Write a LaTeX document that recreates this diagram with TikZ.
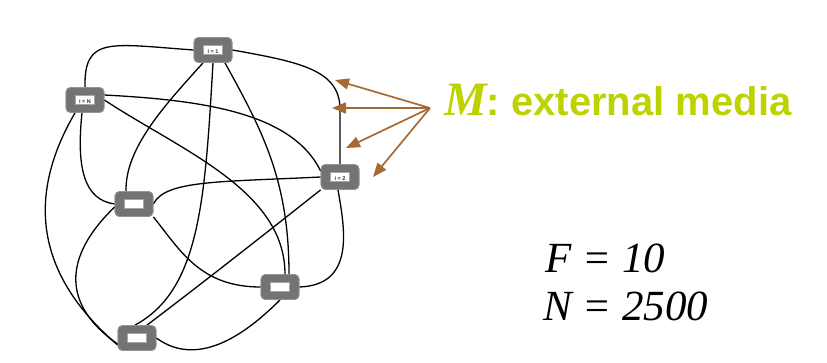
\documentclass[tikz,border=0pt]{standalone}
\usepackage{fontspec}
\setmainfont{Liberation Serif}
\setsansfont{Liberation Sans}
\usetikzlibrary{arrows.meta}
\definecolor{medialime}{RGB}{190,210,0}
\definecolor{arrowbrown}{RGB}{165,105,50}
\newcommand{\inbox}[1]{{\setlength{\fboxsep}{0.8pt}\setlength{\fboxrule}{0.9pt}\fcolorbox{black!35}{white}{\makebox[16pt]{\rule{0pt}{7pt}\sffamily\bfseries\fontsize{5.5}{5.5}\selectfont\color{black!80}#1}}}}
\begin{document}
\begin{tikzpicture}[x=1pt,y=-1pt,
  nbox/.style={rectangle,rounded corners=4.5pt,fill=black!55,draw=black!42,line width=0.8pt,
    minimum width=38pt,minimum height=25pt,inner sep=0pt},
  link/.style={line width=1.3pt,black},
  medarrow/.style={line width=1.7pt,arrowbrown,-{Triangle[length=14pt,width=11pt]}}]
\useasboundingbox (0,0) rectangle (827,362);
% nodes
\node[nbox] (n1) at (213,50) {\inbox{i = 1}};
\node[nbox] (nN) at (85,100) {\inbox{i = N}};
\node[nbox] (n2) at (340,177) {\inbox{i = 2}};
\node[nbox] (nA) at (134,204) {\inbox{}};
\node[nbox] (nB) at (280,287) {\inbox{}};
\node[nbox] (nC) at (137,338) {\inbox{}};
% links
\draw[link] (n1.west) .. controls (110,44) and (84,36) .. (nN.north);
\draw[link] (n1.east) .. controls (300,62) and (339,70) .. (340,108) -- (n2.north);
\draw[link] ([xshift=-10pt]n1.south) .. controls (165,105) and (125,148) .. ([xshift=-8pt]nA.north);
\draw[link] (n1.south) .. controls (205,200) and (200,290) .. ([xshift=-2pt]nC.north);
\draw[link] ([xshift=12pt]n1.south) .. controls (262,130) and (289,180) .. ([xshift=9pt]nB.north);
\draw[link] ([yshift=5pt]nN.east) .. controls (200,100) and (292,112) .. ([yshift=6pt]n2.west);
\draw[link] (nN.east) .. controls (180,150) and (285,190) .. ([xshift=5pt]nB.north);
\draw[link] ([xshift=-3pt]nN.south) .. controls (76,170) and (85,200) .. (nA.west);
\draw[link] ([xshift=-10pt]nN.south) .. controls (30,190) and (30,270) .. ([yshift=-7pt]nC.west);
\draw[link] ([yshift=-3pt]nA.west) .. controls (70,250) and (55,300) .. ([yshift=-6pt]nC.west);
\draw[link] (nA.east) .. controls (165,180) and (220,182) .. (n2.west);
\draw[link] (nA.south east) .. controls (180,250) and (200,287) .. (nB.west);
\draw[link] (n2.south west) .. controls (270,230) and (200,285) .. ([xshift=10pt]nC.north);
\draw[link] ([xshift=-2pt]n2.south) .. controls (345,230) and (355,285) .. (nB.east);
\draw[link] (nB.south) .. controls (250,330) and (200,370) .. (nC.east);
% redraw nodes on top of the links
\node[nbox] at (n1) {\inbox{i = 1}};
\node[nbox] at (nN) {\inbox{i = N}};
\node[nbox] at (n2) {\inbox{i = 2}};
\node[nbox] at (nA) {\inbox{}};
\node[nbox] at (nB) {\inbox{}};
\node[nbox] at (nC) {\inbox{}};
% arrows
\coordinate (src) at (430,108);
\coordinate (t1) at (335,80);
\coordinate (t2) at (332,108);
\coordinate (t3) at (346,148);
\coordinate (t4) at (373,177);
\draw[medarrow] (src) -- (t1);
\draw[medarrow] (src) -- (t2);
\draw[medarrow] (src) -- (t3);
\draw[medarrow] (src) -- (t4);
% texts
\node[anchor=base west,inner sep=0pt,text=medialime] (lbl) at (444,115)
  {{\fontsize{48}{48}\selectfont\bfseries\itshape M}{\sffamily\bfseries\fontsize{40}{40}\selectfont: external media}};
\node[anchor=base west,inner sep=0pt] (feq) at (545,272) {\fontsize{43}{43}\selectfont\itshape F = 10};
\node[anchor=base west,inner sep=0pt] (neq) at (543,320) {\fontsize{43}{43}\selectfont\itshape N = 2500};
\end{tikzpicture}
\end{document}
